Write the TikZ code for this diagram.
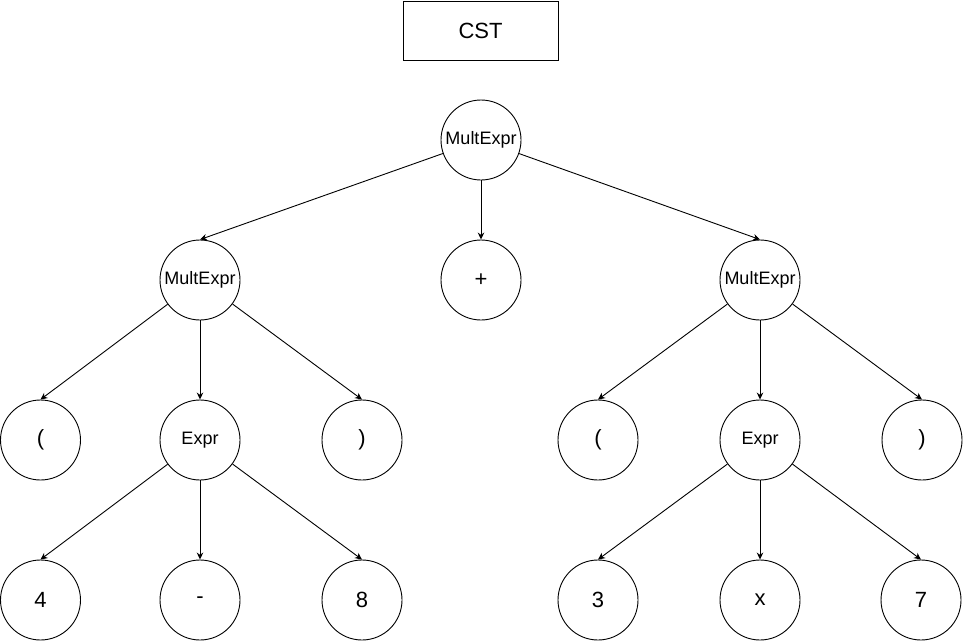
\documentclass[tikz,border=0pt]{standalone}
\usepackage{fontspec}
\setmainfont{Liberation Sans}
\usetikzlibrary{arrows.meta}
\begin{document}
\begin{tikzpicture}[x=1pt,y=-1pt,
  tnode/.style={circle,draw,line width=0.9pt,minimum size=80pt,inner sep=0pt,font=\fontsize{18}{20}\selectfont},
  leaf/.style={tnode,font=\fontsize{22}{24}\selectfont},
  edge/.style={line width=0.9pt,-{Stealth[length=7pt,width=6.5pt]}},
  titlebox/.style={draw,line width=0.9pt,minimum width=155pt,minimum height=59pt,inner sep=0pt,font=\fontsize{22}{24}\selectfont}]
\useasboundingbox (0,0) rectangle (963,642);
\node[titlebox] (title) at (480.5,30.5) {CST};
\node[tnode] (root) at (481,140) {MultExpr};
\node[leaf] (plus) at (481,280) {+};
\node[tnode] (lm) at (200,280) {MultExpr};
\node[tnode] (rm) at (760,280) {MultExpr};
\node[leaf] (lp1) at (40.5,440) {(};
\node[tnode] (le) at (200,440) {Expr};
\node[leaf] (rp1) at (362,440) {)};
\node[leaf] (lp2) at (598,440) {(};
\node[tnode] (re) at (760,440) {Expr};
\node[leaf] (rp2) at (922,440) {)};
\node[leaf] (n4) at (40.5,600) {4};
\node[leaf] (minus) at (200,600) {-};
\node[leaf] (n8) at (362,600) {8};
\node[leaf] (n3) at (598,600) {3};
\node[leaf] (vx) at (760,600) {x};
\node[leaf] (n7) at (921,600) {7};
\draw[edge] (root) -- (lm.north);
\draw[edge] (root) -- (plus.north);
\draw[edge] (root) -- (rm.north);
\draw[edge] (lm) -- (lp1.north);
\draw[edge] (lm) -- (le.north);
\draw[edge] (lm) -- (rp1.north);
\draw[edge] (rm) -- (lp2.north);
\draw[edge] (rm) -- (re.north);
\draw[edge] (rm) -- (rp2.north);
\draw[edge] (le) -- (n4.north);
\draw[edge] (le) -- (minus.north);
\draw[edge] (le) -- (n8.north);
\draw[edge] (re) -- (n3.north);
\draw[edge] (re) -- (vx.north);
\draw[edge] (re) -- (n7.north);
\end{tikzpicture}
\end{document}
